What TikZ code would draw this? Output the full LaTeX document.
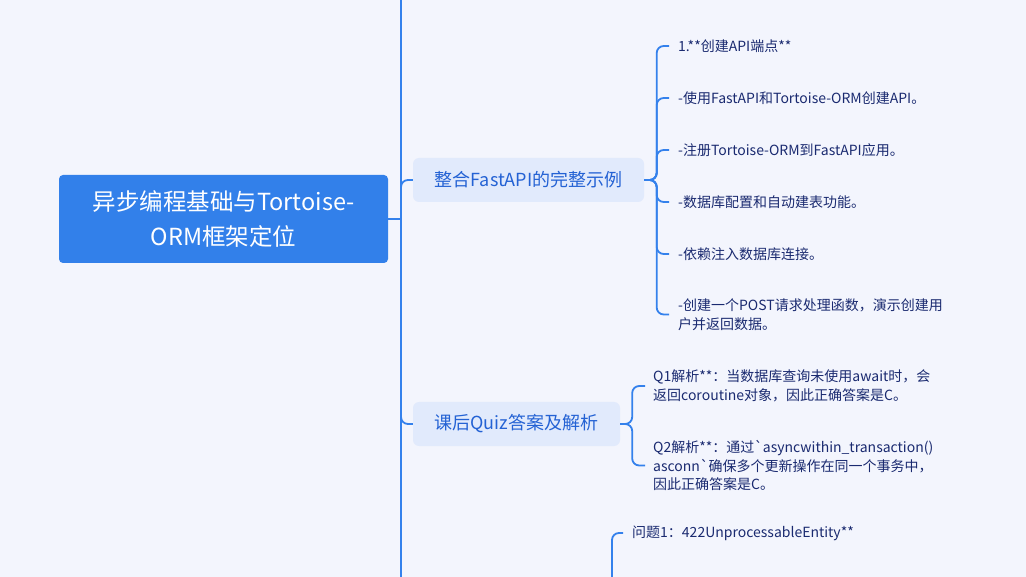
\documentclass[tikz,border=0pt]{standalone}
\usepackage{fontspec}
\setmainfont{Noto Sans CJK SC}

\definecolor{bgc}{RGB}{243,245,253}
\definecolor{linkc}{RGB}{52,129,236}
\definecolor{rootc}{RGB}{50,128,234}
\definecolor{subc}{RGB}{225,234,252}
\definecolor{subtxt}{RGB}{36,98,212}
\definecolor{leaftxt}{RGB}{26,42,112}

\tikzset{
  rootnode/.style={fill=rootc, text=white, rounded corners=4pt, minimum width=329pt,
    minimum height=88pt, align=center, font=\fontsize{23.5}{35}\selectfont},
  subnode/.style={fill=subc, text=subtxt, rounded corners=6pt, minimum height=44pt,
    font=\fontsize{18}{21}\selectfont},
  leaf/.style={anchor=west, inner sep=0pt, text=leaftxt, align=left,
    font=\fontsize{14}{18.4}\selectfont},
  link/.style={draw=linkc, line width=1.8pt, rounded corners=7pt}
}

\begin{document}
\begin{tikzpicture}[x=1pt, y=-1pt]
    \clip (0,0) rectangle (1026,577);
    \fill[bgc] (0,0) rectangle (1026,577);

    \node[rootnode] (root) at (223.5,219) {异步编程基础与Tortoise-\\ORM框架定位};
    \node[subnode, minimum width=231pt] (fast) at (528.5,180) {整合FastAPI的完整示例};
    \node[subnode, minimum width=207pt] (quiz) at (516.5,424) {课后Quiz答案及解析};

    \node[leaf] (f1) at (678,46) {1.**创建API端点**};
    \node[leaf] (f2) at (678,98) {-使用FastAPI和Tortoise-ORM创建API。};
    \node[leaf] (f3) at (678,150) {-注册Tortoise-ORM到FastAPI应用。};
    \node[leaf] (f4) at (678,202) {-数据库配置和自动建表功能。};
    \node[leaf] (f5) at (678,254) {-依赖注入数据库连接。};
    \node[leaf] (f6) at (678,314.5) {-创建一个POST请求处理函数，演示创建用\\户并返回数据。};

    \node[leaf] (q1) at (653,386) {Q1解析**：当数据库查询未使用await时，会\\返回coroutine对象，因此正确答案是C。};
    \node[leaf] (q2) at (653,465.5) {Q2解析**：通过\textasciigrave asyncwithin\_transaction()\\asconn\textasciigrave 确保多个更新操作在同一个事务中，\\因此正确答案是C。};

    \node[leaf] (p1) at (632,533) {问题1：422UnprocessableEntity**};

    \coordinate (tr) at (401,219);
    \coordinate (up) at (413,-40);
    \coordinate (down) at (413,640);
    \coordinate (b3) at (600,640);

    \draw[link] (root.east) -- (tr);
    \draw[link] (tr) |- (up);
    \draw[link] (tr) |- (down);
    \draw[link] (tr) |- (fast.west);
    \draw[link] (tr) |- (quiz.west);

    \foreach \c in {f1,f2,f3,f4,f5,f6}
      \draw[link] (fast.east) -- ++(12.5,0) |- ([xshift=-9pt]\c.west);
    \foreach \c in {q1,q2}
      \draw[link] (quiz.east) -- ++(12,0) |- ([xshift=-8pt]\c.west);
    \draw[link] (b3) -- ++(12,0) |- ([xshift=-9pt]p1.west);
  \end{tikzpicture}
\end{document}
